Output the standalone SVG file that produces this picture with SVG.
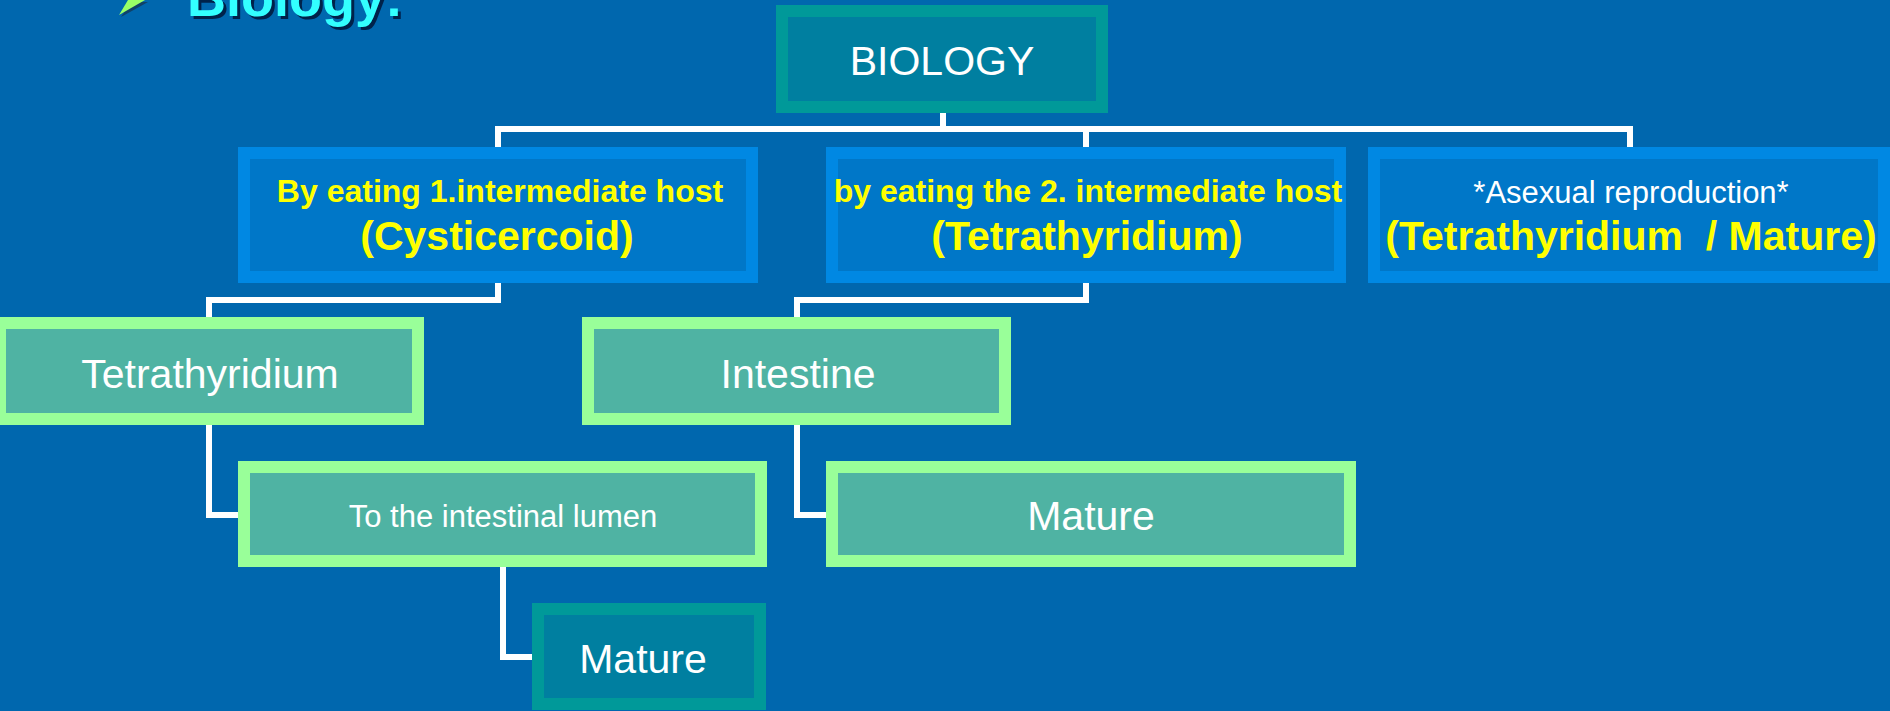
<svg xmlns="http://www.w3.org/2000/svg" width="1890" height="711" viewBox="0 0 1890 711">
<defs>
<style>
.bg{fill:#0067AE}
.teal{fill:#007FA0;stroke:#009999;stroke-width:12}
.blue{fill:#0077C8;stroke:#0088E3;stroke-width:12}
.green{fill:#4FB3A3;stroke:#99FF99;stroke-width:12}
.conn{fill:none;stroke:#FFFFFF;stroke-width:6;stroke-linejoin:miter;stroke-linecap:square}
text{font-family:"Liberation Sans",Arial,sans-serif;text-anchor:middle}
.w{fill:#FFFFFF}
.y{fill:#FFFF00;font-weight:bold}
.t{text-anchor:start;font-size:54px;font-weight:bold}
</style>
</defs>
<rect class="bg" x="0" y="0" width="1890" height="711"/>
<g id="title">
<polygon points="121,17 131,2 148,2" fill="#1a2a3a" opacity="0.6"/>
<polygon points="119,15 128,0 145,0" fill="#99FF66"/>
<text class="t" x="190" y="19" fill="#00224a">Biology:</text>
<text class="t" x="187" y="16" fill="#33FFFF">Biology:</text>
</g>
<g id="connectors">
<path class="conn" d="M943,113 V129"/>
<path class="conn" d="M498,147 V129 H1630 V147"/>
<path class="conn" d="M1086,129 V147"/>
<path class="conn" d="M498,283 V300 H209 V317"/>
<path class="conn" d="M209,425 V515 H238"/>
<path class="conn" d="M1086,283 V300 H797 V317"/>
<path class="conn" d="M797,425 V515 H826"/>
<path class="conn" d="M503,567 V657 H532"/>
</g>
<g id="biology">
<rect class="teal" x="782" y="11" width="320" height="96"/>
<text class="w" x="942" y="75" font-size="41">BIOLOGY</text>
</g>
<g id="first-host">
<rect class="blue" x="244" y="153" width="508" height="124"/>
<text class="y" x="500" y="202" font-size="32">By eating 1.intermediate host</text>
<text class="y" x="497" y="250" font-size="41">(Cysticercoid)</text>
</g>
<g id="second-host">
<rect class="blue" x="832" y="153" width="508" height="124"/>
<text class="y" x="1088" y="202" font-size="32">by eating the 2. intermediate host</text>
<text class="y" x="1087" y="250" font-size="41">(Tetrathyridium)</text>
</g>
<g id="asexual">
<rect class="blue" x="1374" y="153" width="510" height="124"/>
<text class="w" x="1631" y="203" font-size="31">*Asexual reproduction*</text>
<text class="y" x="1631" y="250" font-size="41" style="white-space:pre">(Tetrathyridium  / Mature)</text>
</g>
<g id="tetrathyridium">
<rect class="green" x="0" y="323" width="418" height="96"/>
<text class="w" x="210" y="388" font-size="41">Tetrathyridium</text>
</g>
<g id="intestine">
<rect class="green" x="588" y="323" width="417" height="96"/>
<text class="w" x="798" y="388" font-size="41">Intestine</text>
</g>
<g id="lumen">
<rect class="green" x="244" y="467" width="517" height="94"/>
<text class="w" x="503" y="527" font-size="31">To the intestinal lumen</text>
</g>
<g id="mature-right">
<rect class="green" x="832" y="467" width="518" height="94"/>
<text class="w" x="1091" y="530" font-size="41">Mature</text>
</g>
<g id="mature-bottom">
<rect class="teal" x="538" y="609" width="222" height="95"/>
<text class="w" x="643" y="673" font-size="41">Mature</text>
</g>
</svg>
